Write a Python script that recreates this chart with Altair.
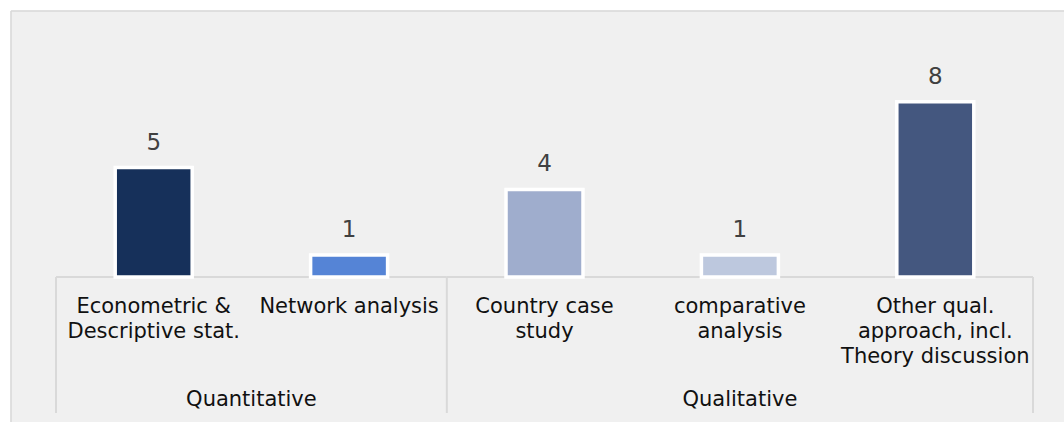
import altair as alt
import pandas as pd

# Study counts by research method
methods = [
    "Econometric &\nDescriptive stat.",
    "Network analysis",
    "Country case\nstudy",
    "comparative\nanalysis",
    "Other qual.\napproach, incl.\nTheory discussion",
]
groups = ["Quantitative", "Quantitative", "Qualitative", "Qualitative", "Qualitative"]
counts = [5, 1, 4, 1, 8]
colors = ["#16305a", "#5584d6", "#9fadcd", "#bdc8de", "#44577f"]

BAR_HALF = 0.197  # half bar width, in category units

df = pd.DataFrame({
    "idx": list(range(len(methods))),
    "method": methods,
    "group": groups,
    "count": counts,
})
df["lo"] = df["idx"] - BAR_HALF
df["hi"] = df["idx"] + BAR_HALF
df["zero"] = 0

# extents of each method group along the category axis
grp = df.groupby("group", sort=False)["idx"].agg(["min", "max"]).reset_index()
grp["left"] = grp["min"] - 0.5
grp["right"] = grp["max"] + 0.5
grp["mid"] = (grp["min"] + grp["max"]) / 2
grp["zero"] = 0
edges = pd.DataFrame({"pos": sorted(set(grp["left"]) | set(grp["right"]))})

W, H = 977, 219
PAD = {"left": 56, "top": 58, "right": 31, "bottom": 145}
FONT = "DejaVu Sans"
GRID = "#d9d9d9"

xs = alt.Scale(domain=[-0.5, len(methods) - 0.5], nice=False, zero=False)
ys = alt.Scale(domain=[0, 10], nice=False)

bars = alt.Chart(df).mark_rect(stroke="white", strokeWidth=3.5).encode(
    x=alt.X("lo:Q", scale=xs, axis=None),
    x2="hi:Q",
    y=alt.Y("count:Q", scale=ys, axis=None),
    y2="zero:Q",
    color=alt.Color("method:N", scale=alt.Scale(domain=methods, range=colors), legend=None),
)

values = alt.Chart(df).mark_text(
    font=FONT, fontSize=23, color="#404040", baseline="alphabetic", dy=-18
).encode(
    x=alt.X("idx:Q", scale=xs, axis=None),
    y=alt.Y("count:Q", scale=ys, axis=None),
    text="count:Q",
)

cat_labels = alt.Chart(df).mark_text(
    font=FONT, fontSize=21, color="#111111", baseline="alphabetic",
    lineBreak="\n", lineHeight=25,
).encode(
    x=alt.X("idx:Q", scale=xs, axis=None),
    y=alt.value(313 - PAD["top"]),
    text="method:N",
)

group_labels = alt.Chart(grp).mark_text(
    font=FONT, fontSize=21, color="#111111", baseline="alphabetic"
).encode(
    x=alt.X("mid:Q", scale=xs, axis=None),
    y=alt.value(406 - PAD["top"]),
    text="group:N",
)

baseline_rule = alt.Chart(grp).mark_rule(color=GRID, strokeWidth=2).encode(
    x=alt.X("left:Q", scale=xs, axis=None),
    x2="right:Q",
    y=alt.Y("zero:Q", scale=ys, axis=None),
)

separators = alt.Chart(edges).mark_rule(color=GRID, strokeWidth=2).encode(
    x=alt.X("pos:Q", scale=xs, axis=None),
    y=alt.value(H),
    y2=alt.value(413 - PAD["top"]),
)

# white margin above and left of the grey panel, and the panel's border
frame = pd.DataFrame({"k": [0]})
margin_top = alt.Chart(frame).mark_rule(color="white", strokeWidth=11).encode(
    x=alt.value(-PAD["left"]), x2=alt.value(W + PAD["right"]),
    y=alt.value(-PAD["top"] + 5),
)
margin_left = alt.Chart(frame).mark_rule(color="white", strokeWidth=11).encode(
    x=alt.value(-PAD["left"] + 5),
    y=alt.value(-PAD["top"]), y2=alt.value(H + PAD["bottom"]),
)
border_top = alt.Chart(frame).mark_rule(color=GRID, strokeWidth=1.5).encode(
    x=alt.value(-PAD["left"] + 11), x2=alt.value(W + PAD["right"]),
    y=alt.value(-PAD["top"] + 11),
)
border_left = alt.Chart(frame).mark_rule(color=GRID, strokeWidth=1.5).encode(
    x=alt.value(-PAD["left"] + 11),
    y=alt.value(-PAD["top"] + 11), y2=alt.value(H + PAD["bottom"]),
)

chart = alt.layer(
    margin_top, margin_left, border_top, border_left,
    baseline_rule, separators, bars, values, cat_labels, group_labels,
).properties(
    width=W, height=H, padding=PAD,
    autosize=alt.AutoSizeParams(type="none"),
    background="#f0f0f0",
).configure_view(strokeWidth=0)

chart.save("out.html", embed_options={"renderer": "svg", "actions": False})
